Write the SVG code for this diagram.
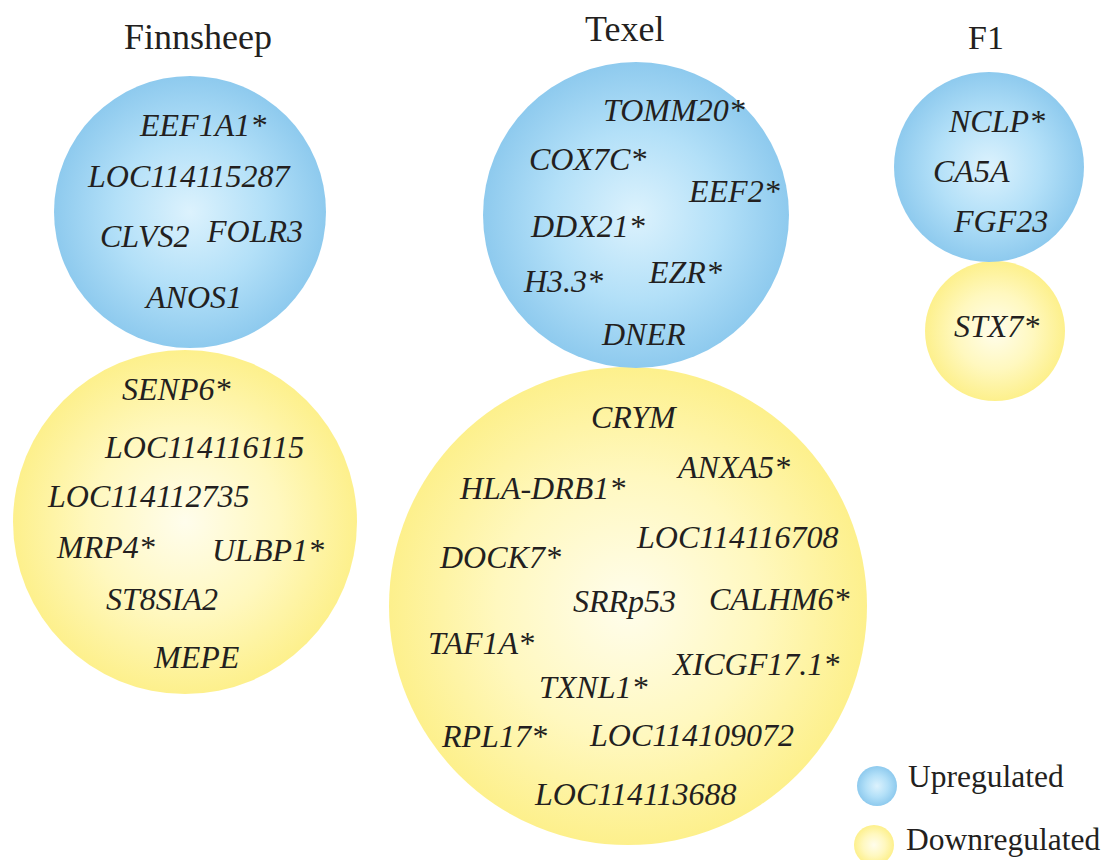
<svg xmlns="http://www.w3.org/2000/svg" width="1104" height="860" viewBox="0 0 1104 860">
<defs>
<radialGradient id="gBlue" cx="0.5" cy="0.5" r="0.5">
<stop offset="0" stop-color="#dcf2fd"/>
<stop offset="0.55" stop-color="#b3e0f8"/>
<stop offset="1" stop-color="#8ecaee"/>
</radialGradient>
<radialGradient id="gYellow" cx="0.5" cy="0.5" r="0.5">
<stop offset="0" stop-color="#fffdec"/>
<stop offset="0.55" stop-color="#fff8bf"/>
<stop offset="1" stop-color="#fdf08c"/>
</radialGradient>
<style>
.up{fill:url(#gBlue);}
.down{fill:url(#gYellow);}
.gene{font-family:"Liberation Serif","Times New Roman",serif;font-style:italic;font-size:32px;fill:#231f20;}
.title{font-family:"Liberation Serif","Times New Roman",serif;font-size:36px;fill:#231f20;}
.legend{font-family:"Liberation Serif","Times New Roman",serif;font-size:31.5px;fill:#231f20;}
</style>
</defs>
<rect width="1104" height="860" fill="#ffffff"/>
<g id="titles">
<text class="title" x="124" y="49">Finnsheep</text>
<text class="title" x="585" y="41">Texel</text>
<text class="title" x="968" y="49" style="font-size:34px">F1</text>
</g>
<g id="connectors"></g>
<g id="finnsheep-down">
<circle class="down" cx="185" cy="522" r="172"/>
<text class="gene" x="122" y="400">SENP6*</text>
<text class="gene" x="105" y="458">LOC114116115</text>
<text class="gene" x="48" y="507">LOC114112735</text>
<text class="gene" x="57" y="558">MRP4*</text>
<text class="gene" x="212" y="561">ULBP1*</text>
<text class="gene" x="106" y="610">ST8SIA2</text>
<text class="gene" x="154" y="668">MEPE</text>
</g>
<g id="finnsheep-up">
<circle class="up" cx="190" cy="212" r="136"/>
<text class="gene" x="140" y="136">EEF1A1*</text>
<text class="gene" x="88" y="187">LOC114115287</text>
<text class="gene" x="100" y="247">CLVS2</text>
<text class="gene" x="207" y="242">FOLR3</text>
<text class="gene" x="146" y="308">ANOS1</text>
</g>
<g id="texel-down">
<circle class="down" cx="628" cy="606" r="239"/>
<text class="gene" x="591" y="428">CRYM</text>
<text class="gene" x="678" y="478">ANXA5*</text>
<text class="gene" x="460" y="499">HLA-DRB1*</text>
<text class="gene" x="637" y="548">LOC114116708</text>
<text class="gene" x="440" y="568">DOCK7*</text>
<text class="gene" x="573" y="612">SRRp53</text>
<text class="gene" x="709" y="610">CALHM6*</text>
<text class="gene" x="428" y="654">TAF1A*</text>
<text class="gene" x="673" y="675">XICGF17.1*</text>
<text class="gene" x="539" y="698">TXNL1*</text>
<text class="gene" x="442" y="747">RPL17*</text>
<text class="gene" x="590" y="746">LOC114109072</text>
<text class="gene" x="535" y="805">LOC114113688</text>
</g>
<g id="texel-up">
<circle class="up" cx="636" cy="215" r="153"/>
<text class="gene" x="603" y="121">TOMM20*</text>
<text class="gene" x="529" y="170">COX7C*</text>
<text class="gene" x="689" y="202">EEF2*</text>
<text class="gene" x="531" y="237">DDX21*</text>
<text class="gene" x="524" y="292">H3.3*</text>
<text class="gene" x="649" y="283">EZR*</text>
<text class="gene" x="602" y="345">DNER</text>
</g>
<g id="f1-down">
<circle class="down" cx="995" cy="331" r="70"/>
<text class="gene" x="954" y="337">STX7*</text>
</g>
<g id="f1-up">
<circle class="up" cx="989" cy="167" r="95"/>
<text class="gene" x="949" y="132">NCLP*</text>
<text class="gene" x="933" y="182">CA5A</text>
<text class="gene" x="954" y="232">FGF23</text>
</g>
<g id="legend">
<circle class="up" cx="877" cy="786" r="20"/>
<text class="legend" x="908" y="787">Upregulated</text>
<circle class="down" cx="874" cy="845" r="20"/>
<text class="legend" x="906" y="850">Downregulated</text>
</g>
</svg>
